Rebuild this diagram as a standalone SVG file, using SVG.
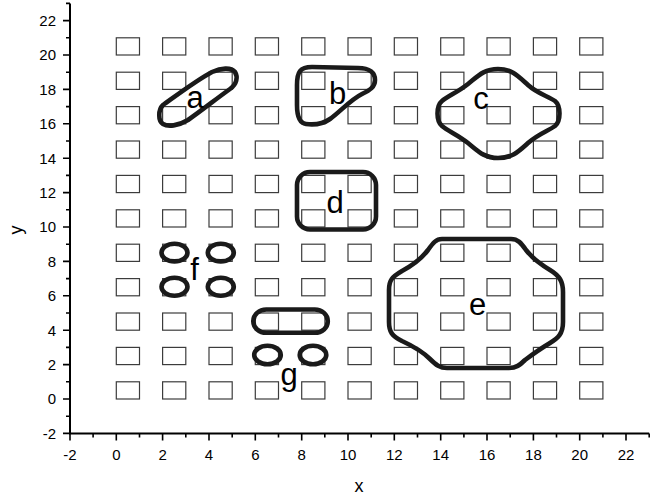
<svg xmlns="http://www.w3.org/2000/svg" xmlns:xlink="http://www.w3.org/1999/xlink" width="667" height="497" viewBox="0 0 667 497">
<style>
.ax{stroke:#000;stroke-width:2;fill:none}
.tk{stroke:#000;stroke-width:1.6;fill:none}
.sq{fill:none;stroke:#3c3c3c;stroke-width:1.2}
.bl{fill:none;stroke:#1a1a1a;stroke-width:4.6;stroke-linejoin:round}
.tl{font-family:"Liberation Sans",Arial,sans-serif;font-size:15px;fill:#000}
.lb{font-family:"Liberation Sans",Arial,sans-serif;font-size:31px;fill:#000;text-anchor:middle}
.at{font-family:"Liberation Sans",Arial,sans-serif;font-size:18px;fill:#000;text-anchor:middle}
</style>
<defs>
<g id="row">
<rect class="sq" x="116.3" y="0" width="23.2" height="17.2"/>
<rect class="sq" x="162.6" y="0" width="23.2" height="17.2"/>
<rect class="sq" x="209.0" y="0" width="23.2" height="17.2"/>
<rect class="sq" x="255.3" y="0" width="23.2" height="17.2"/>
<rect class="sq" x="301.7" y="0" width="23.2" height="17.2"/>
<rect class="sq" x="348.0" y="0" width="23.2" height="17.2"/>
<rect class="sq" x="394.3" y="0" width="23.2" height="17.2"/>
<rect class="sq" x="440.7" y="0" width="23.2" height="17.2"/>
<rect class="sq" x="487.0" y="0" width="23.2" height="17.2"/>
<rect class="sq" x="533.4" y="0" width="23.2" height="17.2"/>
<rect class="sq" x="579.7" y="0" width="23.2" height="17.2"/>
</g>
</defs>
<rect width="667" height="497" fill="#fff"/>
<g id="grid">
<use href="#row" xlink:href="#row" y="381.8"/>
<use href="#row" xlink:href="#row" y="347.4"/>
<use href="#row" xlink:href="#row" y="313.0"/>
<use href="#row" xlink:href="#row" y="278.6"/>
<use href="#row" xlink:href="#row" y="244.2"/>
<use href="#row" xlink:href="#row" y="209.8"/>
<use href="#row" xlink:href="#row" y="175.4"/>
<use href="#row" xlink:href="#row" y="141.0"/>
<use href="#row" xlink:href="#row" y="106.6"/>
<use href="#row" xlink:href="#row" y="72.2"/>
<use href="#row" xlink:href="#row" y="37.8"/>
</g>
<g id="axes">
<path class="ax" d="M70,3.4 V433.4 H649.2"/>
<path class="tk" d="M63,433.4H70M63,399H70M63,364.6H70M63,330.2H70M63,295.8H70M63,261.4H70M63,227H70M63,192.6H70M63,158.2H70M63,123.8H70M63,89.4H70M63,55H70M63,20.6H70"/>
<path class="tk" d="M66,416.2H70M66,381.8H70M66,347.4H70M66,313H70M66,278.6H70M66,244.2H70M66,209.8H70M66,175.4H70M66,141H70M66,106.6H70M66,72.2H70M66,37.8H70M66,3.4H70"/>
<path class="tk" d="M70,433.4V440.5M116.3,433.4V440.5M162.6,433.4V440.5M209,433.4V440.5M255.3,433.4V440.5M301.7,433.4V440.5M348,433.4V440.5M394.3,433.4V440.5M440.7,433.4V440.5M487,433.4V440.5M533.4,433.4V440.5M579.7,433.4V440.5M626,433.4V440.5"/>
<path class="tk" d="M93.1,433.4V437.5M139.5,433.4V437.5M185.8,433.4V437.5M232.2,433.4V437.5M278.5,433.4V437.5M324.8,433.4V437.5M371.2,433.4V437.5M417.5,433.4V437.5M463.9,433.4V437.5M510.2,433.4V437.5M556.5,433.4V437.5M602.9,433.4V437.5M649.2,433.4V437.5"/>
<g class="tl" text-anchor="end">
<text x="56" y="438.7">-2</text>
<text x="56" y="404.3">0</text>
<text x="56" y="369.9">2</text>
<text x="56" y="335.5">4</text>
<text x="56" y="301.1">6</text>
<text x="56" y="266.7">8</text>
<text x="56" y="232.3">10</text>
<text x="56" y="197.9">12</text>
<text x="56" y="163.5">14</text>
<text x="56" y="129.1">16</text>
<text x="56" y="94.7">18</text>
<text x="56" y="60.3">20</text>
<text x="56" y="25.9">22</text>
</g>
<g class="tl" text-anchor="middle">
<text x="70" y="460">-2</text>
<text x="116.3" y="460">0</text>
<text x="162.6" y="460">2</text>
<text x="209" y="460">4</text>
<text x="255.3" y="460">6</text>
<text x="301.7" y="460">8</text>
<text x="348" y="460">10</text>
<text x="394.3" y="460">12</text>
<text x="440.7" y="460">14</text>
<text x="487" y="460">16</text>
<text x="533.4" y="460">18</text>
<text x="579.7" y="460">20</text>
<text x="626" y="460">22</text>
</g>
<text class="at" x="359" y="491.5">x</text>
<text class="at" transform="translate(22,230) rotate(-90)">y</text>
</g>
<g id="a">
<path class="bl" d="M163,105 C177,95 197,80 212,72 C221,68 231,67 235,72 C238,77 237,84 230,89 C216,99 201,111 188,120 C178,126 168,127 163,124 C158,121 158,110 163,105 Z"/>
<text class="lb" x="195" y="108">a</text>
</g>
<g id="b">
<path class="bl" d="M297,85 C297,72 300,67 312,67 L358,68 C370,68 375,73 375,80 C375,87 370,90 362,94 C350,100 340,112 330,119 C323,124 314,125 306,124 C299,123 297,116 297,105 Z"/>
<text class="lb" x="337.5" y="103.5">b</text>
</g>
<g id="c">
<path class="bl" d="M498,69 C512,69 518,76 528,85 C538,94 548,96 555,101 C561,106 561,121 555,126 C548,131 538,134 528,143 C518,152 512,158 498,158 C484,158 478,151 468,143 C458,135 448,131 442,126 C436,121 436,106 442,101 C448,96 458,92 468,84 C478,76 484,69 498,69 Z"/>
<text class="lb" x="481" y="109">c</text>
</g>
<g id="d">
<rect class="bl" x="297" y="172" width="79" height="57.5" rx="13" ry="13"/>
<text class="lb" x="335" y="213">d</text>
</g>
<g id="e">
<path class="bl" d="M442,239 L511,239 C518,239 521,243 526,250 C533,259 540,264 550,270 C560,276 563,282 563,292 L563,322 C563,334 558,338 550,343 C540,349 533,354 525,360 C520,365 516,368 509,368 L447,368 C440,368 436,365 430,359 C423,352 415,347 402,341 C392,336 389,332 389,322 L389,290 C389,280 392,277 402,271 C415,264 422,258 428,250 C433,243 436,239 442,239 Z"/>
<text class="lb" x="477.5" y="315">e</text>
</g>
<g id="f">
<ellipse class="bl" cx="174.5" cy="252.6" rx="13" ry="8.8"/>
<ellipse class="bl" cx="220.8" cy="252.6" rx="13" ry="8.8"/>
<ellipse class="bl" cx="174.5" cy="286.8" rx="13" ry="9"/>
<ellipse class="bl" cx="220.8" cy="286.8" rx="13" ry="9"/>
<text class="lb" x="194.5" y="280">f</text>
</g>
<g id="g">
<rect class="bl" x="253.3" y="309.5" width="74.5" height="23.3" rx="13" ry="11.5"/>
<ellipse class="bl" cx="267.5" cy="355" rx="13.3" ry="9.2"/>
<ellipse class="bl" cx="313" cy="355" rx="13.3" ry="9.2"/>
<text class="lb" x="289" y="384.5">g</text>
</g>
</svg>
